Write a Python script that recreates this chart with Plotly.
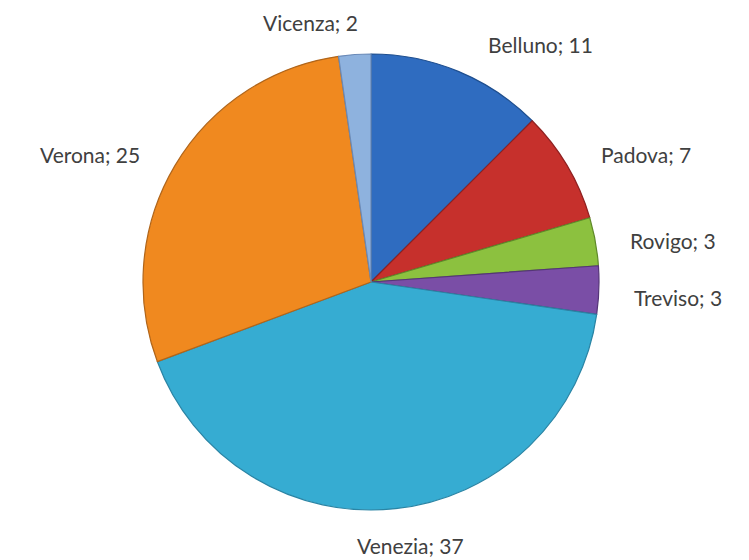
import plotly.graph_objects as go

labels = ["Belluno", "Padova", "Rovigo", "Treviso", "Venezia", "Verona", "Vicenza"]
values = [11, 7, 3, 3, 37, 25, 2]
colors = ["#2f6cc0", "#c6302c", "#8cc13f", "#7a4ea6", "#36acd2", "#f0891f", "#8eb2de"]
edge = ["#1f4f8f", "#8f2020", "#5f8a2a", "#553578", "#2a84a4", "#b0651a", "#6a8ab8"]

W, H = 749, 560
OFF = 8  # page offset
cx, cy, r = 371 - OFF, 282 - OFF, 228

# label placement (pixels, reference image)
label_pos = {
    "Vicenza": (310, 22),
    "Belluno": (540, 44),
    "Padova": (646, 155),
    "Rovigo": (673, 240),
    "Treviso": (678, 297),
    "Venezia": (410, 545),
    "Verona": (90, 155),
}

fig = go.Figure(go.Pie(
    labels=labels, values=values, sort=False, direction="clockwise", rotation=0,
    marker=dict(colors=colors, line=dict(color=edge, width=1.2)),
    textinfo="none", hoverinfo="label+value", showlegend=False,
    domain=dict(x=[(cx - r) / W, (cx + r) / W], y=[(H - cy - r) / H, (H - cy + r) / H]),
))

for lab, val in zip(labels, values):
    px, py = label_pos[lab]
    fig.add_annotation(x=(px - OFF) / W, y=1 - (py - OFF) / H, xref="paper", yref="paper",
                       xanchor="center", yanchor="middle",
                       text=f"{lab}; {val}", showarrow=False,
                       font=dict(family="Lato, Open Sans, sans-serif", size=21, color="#404040"))

fig.update_layout(width=W, height=H, margin=dict(l=0, r=0, t=0, b=0),
                  paper_bgcolor="white", plot_bgcolor="white")
fig.write_html("out.html")
